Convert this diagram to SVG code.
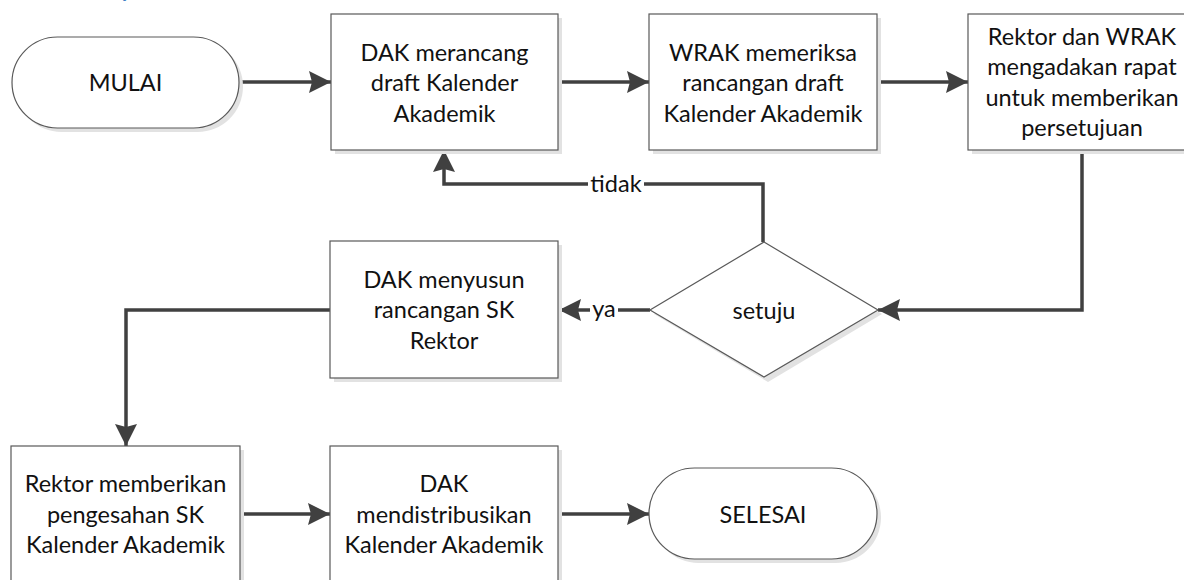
<svg xmlns="http://www.w3.org/2000/svg" width="1184" height="580" viewBox="0 0 1184 580">
<style>
.shape{fill:#fff;stroke:#595959;stroke-width:1.2}
.shadow{fill:#e2e2e2;stroke:none}
.t{font-family:Lato,"Liberation Sans",sans-serif;font-size:23.5px;fill:#111;text-anchor:middle}
.c{fill:none;stroke:#404040;stroke-width:3.5}
.lbl{font-family:Lato,"Liberation Sans",sans-serif;font-size:23.5px;fill:#111;text-anchor:middle}
</style>
<defs>
<marker id="ah" markerUnits="userSpaceOnUse" markerWidth="24" markerHeight="24" viewBox="0 0 24 24" refX="22" refY="12" orient="auto">
<path d="M0,1 L22,12 L0,23 L3,12 Z" fill="#404040"/>
</marker>
</defs>
<rect width="1184" height="580" fill="#fff"/>
<text x="122" y="-3" font-family="Lato,'Liberation Sans',sans-serif" font-size="22" font-style="italic" font-weight="bold" fill="#3f7fc6">y</text>

<g id="connectors">
<line class="c" x1="239" y1="82" x2="331" y2="82" marker-end="url(#ah)"/>
<line class="c" x1="558" y1="82" x2="649" y2="82" marker-end="url(#ah)"/>
<line class="c" x1="877" y1="82" x2="968" y2="82" marker-end="url(#ah)"/>
<polyline class="c" points="1082,150 1082,310 878,310" marker-end="url(#ah)"/>
<polyline class="c" points="763,242 763,184 444,184 444,150" marker-end="url(#ah)"/>
<line class="c" x1="650" y1="310" x2="559" y2="310" marker-end="url(#ah)"/>
<polyline class="c" points="330,310 126,310 126,446" marker-end="url(#ah)"/>
<line class="c" x1="240" y1="514" x2="330" y2="514" marker-end="url(#ah)"/>
<line class="c" x1="558" y1="514" x2="649" y2="514" marker-end="url(#ah)"/>
<rect x="588" y="170" width="56" height="28" fill="#fff"/>
<text class="lbl" x="616" y="192">tidak</text>
<rect x="590" y="296" width="28" height="28" fill="#fff"/>
<text class="lbl" x="604" y="317">ya</text>
</g>

<g id="mulai">
<rect class="shadow" x="16" y="41" width="227" height="91" rx="45.5"/>
<rect class="shape" x="12" y="37" width="227" height="91" rx="45.5"/>
<text class="t" x="125.5" y="90.5">MULAI</text>
</g>

<g id="dak-merancang">
<rect class="shadow" x="335" y="18" width="227" height="136"/>
<rect class="shape" x="331" y="14" width="227" height="136"/>
<text class="t" x="444.5" y="60.5">DAK merancang</text>
<text class="t" x="444.5" y="91">draft Kalender</text>
<text class="t" x="444.5" y="121.5">Akademik</text>
</g>

<g id="wrak-memeriksa">
<rect class="shadow" x="653" y="18" width="228" height="136"/>
<rect class="shape" x="649" y="14" width="228" height="136"/>
<text class="t" x="763" y="60.5">WRAK memeriksa</text>
<text class="t" x="763" y="91">rancangan draft</text>
<text class="t" x="763" y="121.5">Kalender Akademik</text>
</g>

<g id="rektor-rapat">
<rect class="shadow" x="972" y="18" width="228" height="136"/>
<rect class="shape" x="968" y="14" width="228" height="136"/>
<text class="t" x="1082" y="44.5">Rektor dan WRAK</text>
<text class="t" x="1082" y="75">mengadakan rapat</text>
<text class="t" x="1082" y="105.5">untuk memberikan</text>
<text class="t" x="1082" y="136">persetujuan</text>
</g>

<g id="setuju">
<polygon class="shadow" points="768,246 882,314 768,382 654,314"/>
<polygon class="shape" points="764,242 878,310 764,377 650,310"/>
<text class="t" x="764" y="318.5">setuju</text>
</g>

<g id="dak-menyusun">
<rect class="shadow" x="334" y="245" width="228" height="137"/>
<rect class="shape" x="330" y="241" width="228" height="137"/>
<text class="t" x="444" y="287.5">DAK menyusun</text>
<text class="t" x="444" y="318">rancangan SK</text>
<text class="t" x="444" y="348.5">Rektor</text>
</g>

<g id="rektor-pengesahan">
<rect class="shadow" x="15" y="450" width="229" height="137"/>
<rect class="shape" x="11" y="446" width="229" height="137"/>
<text class="t" x="125.5" y="491.5">Rektor memberikan</text>
<text class="t" x="125.5" y="522.5">pengesahan SK</text>
<text class="t" x="125.5" y="553">Kalender Akademik</text>
</g>

<g id="dak-distribusi">
<rect class="shadow" x="334" y="450" width="228" height="137"/>
<rect class="shape" x="330" y="446" width="228" height="137"/>
<text class="t" x="444" y="491.5">DAK</text>
<text class="t" x="444" y="522.5">mendistribusikan</text>
<text class="t" x="444" y="553">Kalender Akademik</text>
</g>

<g id="selesai">
<rect class="shadow" x="653" y="472" width="228" height="91" rx="45.5"/>
<rect class="shape" x="649" y="468" width="228" height="91" rx="45.5"/>
<text class="t" x="763" y="522.5">SELESAI</text>
</g>
</svg>
